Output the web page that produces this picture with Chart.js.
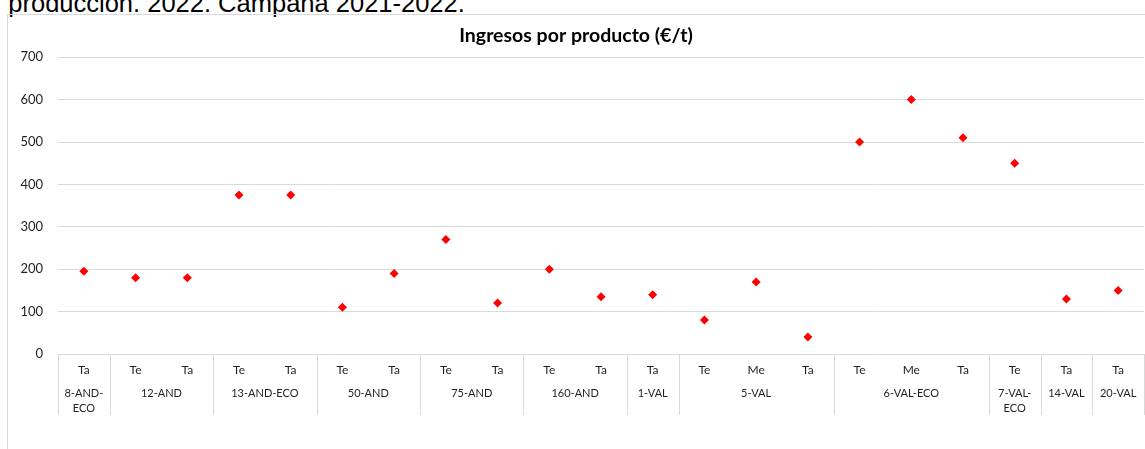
<!DOCTYPE html>
<html>
<head>
<meta charset="utf-8">
<script src="https://cdn.jsdelivr.net/npm/chart.js@4.4.1/dist/chart.umd.min.js"></script>
<style>
  html, body { margin: 0; padding: 0; background: #fff; width: 1145px; height: 449px; overflow: hidden; position: relative; }
  #head { position: absolute; left: 8.3px; top: -8.9px; font-family: "Liberation Sans", Arial, sans-serif; font-size: 25.5px; line-height: 25.5px; color: #000; white-space: nowrap; }
  #frame { position: absolute; left: 7px; top: 14px; width: 1200px; height: 500px; border-left: 1px solid #d9d9d9; border-top: 1px solid #d9d9d9; }
  #wrap { position: absolute; left: 8px; top: 14px; width: 1148px; height: 435px; }
</style>
</head>
<body>
<div id="head">producción. 2022. Campaña 2021-2022.</div>
<div id="frame"></div>
<div id="wrap"><canvas id="c"></canvas></div>
<script>
const chartTitle = 'Ingresos por producto (€/t)';
const groupNames = [['8-AND-', 'ECO'], ['12-AND'], ['13-AND-ECO'], ['50-AND'], ['75-AND'], ['160-AND'], ['1-VAL'], ['5-VAL'], ['6-VAL-ECO'], ['7-VAL-', 'ECO'], ['14-VAL'], ['20-VAL']];
const groupSizes = [1, 2, 2, 2, 2, 2, 1, 3, 3, 1, 1, 1];
const subLabels = ['Ta', 'Te', 'Ta', 'Te', 'Ta', 'Te', 'Ta', 'Te', 'Ta', 'Te', 'Ta', 'Ta', 'Te', 'Me', 'Ta', 'Te', 'Me', 'Ta', 'Te', 'Ta', 'Ta'];
const values = [195, 180, 180, 375, 375, 110, 190, 270, 120, 200, 135, 140, 80, 170, 40, 500, 600, 510, 450, 130, 150];
const yTicks = [0, 100, 200, 300, 400, 500, 600, 700];

const gridColor = '#d9d9d9';
const textColor = '#1f1f1f';
const fontFam = 'Lato, "Open Sans", sans-serif';

const groupPlugin = {
  id: 'groupAxis',
  afterDraw(chart) {
    const x = chart.scales.x;
    const ctx = chart.ctx;
    const bottom = chart.chartArea.bottom;
    const half = (x.getPixelForValue(1) - x.getPixelForValue(0)) / 2;
    ctx.save();
    ctx.strokeStyle = gridColor;
    ctx.lineWidth = 1;
    let idx = 0;
    const bounds = [];
    groupSizes.forEach((n) => { bounds.push(x.getPixelForValue(idx) - half); idx += n; });
    bounds.push(x.getPixelForValue(idx - 1) + half);
    bounds.forEach((b) => {
      const px = Math.round(b) + 0.5;
      ctx.beginPath();
      ctx.moveTo(px, bottom);
      ctx.lineTo(px, bottom + 61);
      ctx.stroke();
    });
    ctx.fillStyle = textColor;
    ctx.font = '11px ' + fontFam;
    ctx.textAlign = 'center';
    ctx.textBaseline = 'middle';
    groupNames.forEach((lines, i) => {
      const cx = (bounds[i] + bounds[i + 1]) / 2;
      lines.forEach((t, j) => ctx.fillText(t, cx, bottom + 39 + j * 15.5));
    });
    ctx.restore();
  }
};

new Chart(document.getElementById('c'), {
  type: 'line',
  data: {
    labels: subLabels,
    datasets: [{
      data: values,
      showLine: false,
      pointStyle: 'rectRot',
      pointRadius: 4.5,
      pointHoverRadius: 4.5,
      pointBackgroundColor: '#ff0000',
      pointBorderColor: '#ff0000',
      pointBorderWidth: 0
    }]
  },
  options: {
    responsive: true,
    maintainAspectRatio: false,
    animation: false,
    events: [],
    layout: { padding: { left: 0, right: 12, top: 0, bottom: 0 } },
    plugins: {
      legend: { display: false },
      tooltip: { enabled: false },
      title: {
        display: true,
        text: chartTitle,
        color: '#000',
        font: { family: fontFam, size: 19.5, weight: 'bold', lineHeight: 1.2 },
        padding: { top: 10, bottom: 9.8 }
      }
    },
    scales: {
      x: {
        type: 'category',
        offset: true,
        grid: { display: false, drawTicks: false },
        border: { display: false },
        ticks: { color: textColor, font: { family: fontFam, size: 12 }, padding: 9, maxRotation: 0, autoSkip: false },
        afterFit(s) { s.height = 95; }
      },
      y: {
        min: 0,
        max: 700,
        afterBuildTicks(s) { s.ticks = yTicks.map(v => ({ value: v })); },
        grid: { color: gridColor, drawTicks: false, lineWidth: 1 },
        border: { display: false },
        ticks: { color: textColor, font: { family: fontFam, size: 13 }, padding: 15 },
        afterFit(s) { s.width = 50; }
      }
    }
  },
  plugins: [groupPlugin]
});
</script>
</body>
</html>
